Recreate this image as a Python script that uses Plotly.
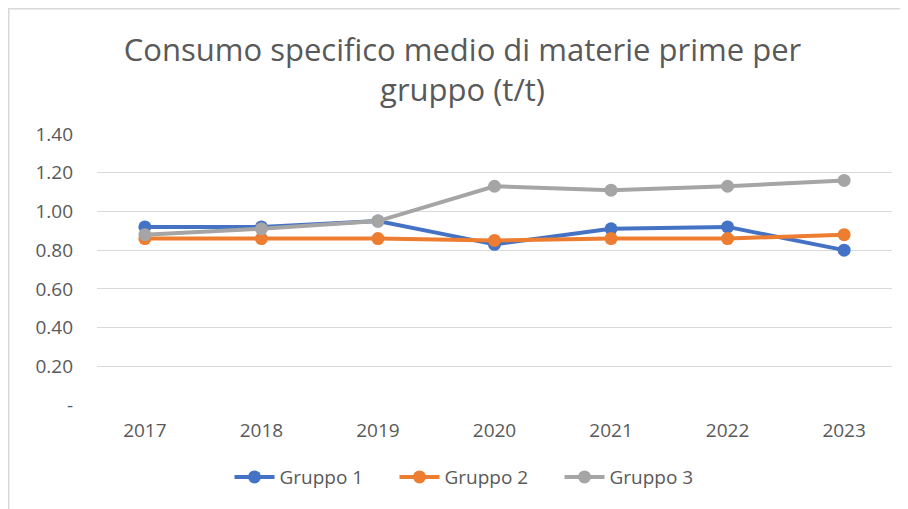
import plotly.graph_objects as go

years = ["2017", "2018", "2019", "2020", "2021", "2022", "2023"]
gruppo1 = [0.92, 0.92, 0.95, 0.83, 0.91, 0.92, 0.80]
gruppo2 = [0.86, 0.86, 0.86, 0.85, 0.86, 0.86, 0.88]
gruppo3 = [0.88, 0.91, 0.95, 1.13, 1.11, 1.13, 1.16]
y_tickvals = [0, 0.2, 0.4, 0.6, 0.8, 1.0, 1.2, 1.4]
y_ticktext = ["-", "0.20", "0.40", "0.60", "0.80", "1.00", "1.20", "1.40"]

series = [("Gruppo 1", gruppo1, "#4472C4"),
          ("Gruppo 2", gruppo2, "#ED7D31"),
          ("Gruppo 3", gruppo3, "#A5A5A5")]

fig = go.Figure()
for name, vals, col in series:
    fig.add_trace(go.Scatter(x=years, y=vals, name=name, mode="lines+markers",
                             line=dict(color=col, width=4),
                             marker=dict(color=col, size=13)))

font_family = "Open Sans, DejaVu Sans, sans-serif"
W, H = 900, 501
fig.update_layout(
    width=W, height=H,
    margin=dict(l=89, r=16, t=126, b=104),
    paper_bgcolor="white", plot_bgcolor="white",
    title=dict(text="Consumo specifico medio di materie prime per<br>gruppo (t/t)",
               x=0.505, xanchor="center", y=0.894, yanchor="middle",
               font=dict(family=font_family, size=31, color="#595959")),
    xaxis=dict(type="category", showgrid=False, zeroline=False, showline=False,
               ticks="", tickfont=dict(family=font_family, size=19, color="#595959"),
               ticklabelstandoff=12),
    yaxis=dict(range=[0, 1.4], tickvals=y_tickvals, ticktext=y_ticktext,
               showgrid=True, gridcolor="#d9d9d9", gridwidth=1,
               zeroline=False, showline=False, ticks="",
               tickfont=dict(family=font_family, size=19, color="#595959"),
               ticklabelstandoff=23),
    legend=dict(orientation="h", x=0.478, xanchor="center", y=-0.266, yanchor="middle",
                font=dict(family=font_family, size=19, color="#595959"),
                itemwidth=40, entrywidth=110, entrywidthmode="pixels"),
    showlegend=True,
    shapes=[dict(type="rect", xref="paper", yref="paper",
                 x0=-0.1113, x1=1.2, y0=-0.6, y1=1.463,
                 line=dict(color="#d9d9d9", width=2), fillcolor="rgba(0,0,0,0)",
                 layer="below")],
)

fig.write_html("out.html")
